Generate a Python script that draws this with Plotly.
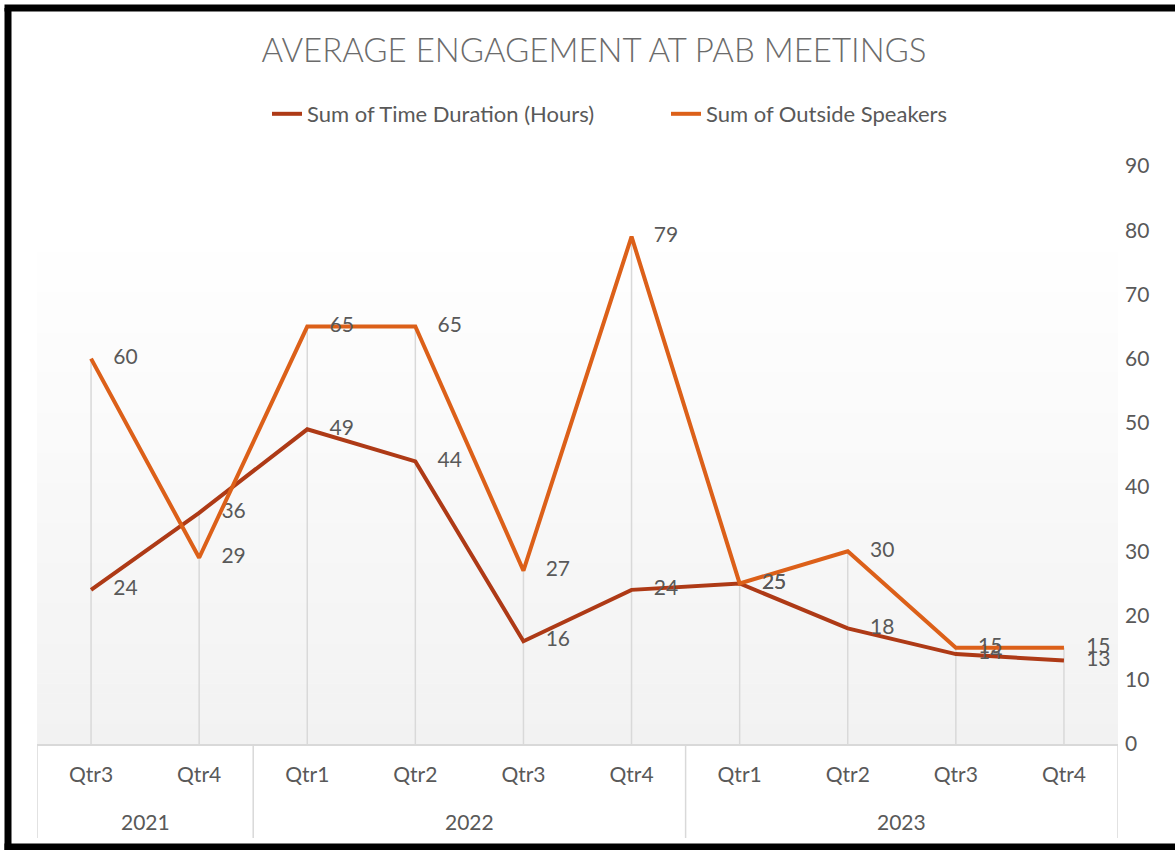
import plotly.graph_objects as go

years = ["2021", "2021", "2022", "2022", "2022", "2022", "2023", "2023", "2023", "2023"]
quarters = ["Qtr3", "Qtr4", "Qtr1", "Qtr2", "Qtr3", "Qtr4", "Qtr1", "Qtr2", "Qtr3", "Qtr4"]
time_duration = [24, 36, 49, 44, 16, 24, 25, 18, 14, 13]
outside_speakers = [60, 29, 65, 65, 27, 79, 25, 30, 15, 15]

W, H = 1175, 850
L, R, T, B = 37, 1118, 166, 744
FONT = "Lato"
GRAY = "#595959"


def px(x):
    return (x - L) / (R - L)


def py(y):
    return (B - y) / (B - T)


idx = list(range(len(quarters)))
drop_top = [max(a, b) for a, b in zip(time_duration, outside_speakers)]

fig = go.Figure()

# drop lines from the highest point of each category to the axis
fig.add_trace(go.Scatter(
    x=idx, y=drop_top, mode="markers",
    marker=dict(size=1, color="rgba(0,0,0,0)"),
    error_y=dict(type="data", symmetric=False, array=[0] * len(drop_top),
                 arrayminus=drop_top, width=0, color="#d9d9d9", thickness=1.5),
    showlegend=False, hoverinfo="skip",
))

fig.add_trace(go.Scatter(
    x=idx, y=time_duration, name="Sum of Time Duration (Hours)",
    mode="lines+markers+text", text=[str(v) for v in time_duration],
    textposition="middle right",
    textfont=dict(family=FONT, size=21, color=GRAY),
    line=dict(color="#AE3A16", width=4),
    marker=dict(size=34, color="rgba(0,0,0,0)"),
))
fig.add_trace(go.Scatter(
    x=idx, y=outside_speakers, name="Sum of Outside Speakers",
    mode="lines+markers+text", text=[str(v) for v in outside_speakers],
    textposition="middle right",
    textfont=dict(family=FONT, size=21, color=GRAY),
    line=dict(color="#DC6019", width=4),
    marker=dict(size=34, color="rgba(0,0,0,0)"),
))

shapes = []
# gradient plot-area background
N = 50
top = py(242)
for i in range(N):
    f = i / N
    c = int(round(242 + (255 - 242) * f))
    shapes.append(dict(type="rect", xref="paper", yref="paper",
                       x0=0, x1=1, y0=top * i / N, y1=top * (i + 1) / N + 0.001,
                       fillcolor=f"rgb({c},{c},{c})", line=dict(width=0), layer="below"))

# year groups: dividers and labels
groups = []
for i, yv in enumerate(years):
    if not groups or groups[-1][0] != yv:
        groups.append([yv, i, i])
    else:
        groups[-1][2] = i
bounds = [g[1] - 0.5 for g in groups] + [groups[-1][2] + 0.5]
for b in bounds:
    shapes.append(dict(type="line", xref="x", yref="paper", x0=b, x1=b,
                       y0=0, y1=py(838), line=dict(color="#d9d9d9", width=1.5)))

annotations = []
for yv, a, b in groups:
    annotations.append(dict(x=(a + b) / 2, xref="x", y=py(821), yref="paper",
                            text=yv, showarrow=False, xanchor="center", yanchor="middle",
                            font=dict(family=FONT, size=21, color=GRAY)))

# black frame: left, top and bottom edges (right edge lies outside the page)
frame = dict(color="black", width=7)
shapes.append(dict(type="line", xref="paper", yref="paper",
                   x0=px(8), x1=px(8), y0=py(850), y1=py(8), line=frame))
shapes.append(dict(type="line", xref="paper", yref="paper",
                   x0=px(4.5), x1=px(1175), y0=py(8), y1=py(8), line=frame))
shapes.append(dict(type="line", xref="paper", yref="paper",
                   x0=px(4.5), x1=px(1175), y0=py(847), y1=py(847), line=frame))

fig.update_layout(
    width=W, height=H,
    margin=dict(l=L, r=W - R, t=T, b=H - B, pad=0, autoexpand=False),
    paper_bgcolor="white", plot_bgcolor="rgba(0,0,0,0)",
    font=dict(family=FONT, color=GRAY, size=21),
    title=dict(text="AVERAGE ENGAGEMENT AT PAB MEETINGS", x=594 / W, xanchor="center",
               y=1 - 50 / H, yanchor="middle", yref="container",
               font=dict(family=FONT, size=33, color="#6b6b6b", weight=300)),
    legend=dict(orientation="h", x=px(267), xanchor="left", y=py(114), yanchor="middle",
                font=dict(family=FONT, size=22, color=GRAY), bgcolor="rgba(0,0,0,0)",
                entrywidth=354, entrywidthmode="pixels", traceorder="normal"),
    shapes=shapes,
    annotations=annotations,
    showlegend=True,
)
fig.update_xaxes(range=[-0.5, len(idx) - 0.5], tickvals=idx, ticktext=quarters,
                 showgrid=False, showline=True, linecolor="#d9d9d9", linewidth=1.5,
                 ticks="", ticklabelstandoff=11, automargin=False,
                 tickfont=dict(family=FONT, size=21, color=GRAY), zeroline=False)
fig.update_yaxes(side="right", range=[0, 90], dtick=10, showgrid=False, zeroline=False,
                 showline=False, ticks="", automargin=False, ticklabelstandoff=6,
                 tickfont=dict(family=FONT, size=21, color=GRAY))

fig.write_html("out.html", config={"displayModeBar": False},
               post_script="document.documentElement.style.background='white';"
                           "document.body.style.margin='0';document.body.style.overflow='hidden';")
